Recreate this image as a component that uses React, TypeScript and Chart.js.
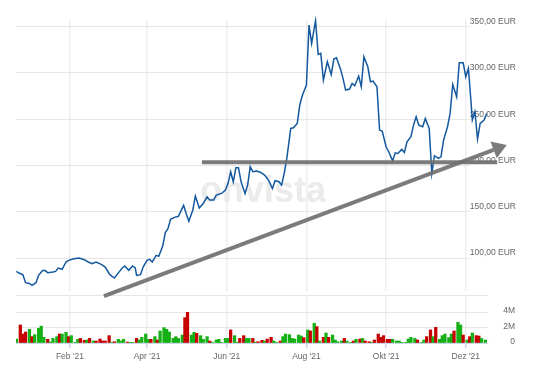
import { useEffect, useRef } from 'react';
import { Chart, registerables } from 'chart.js';

Chart.register(...registerables);

// ---------- data (x values are day numbers of 2021: 1 = 1 Jan 2021, <=0 = Dec 2020) ----------
const monthTickDays = [32, 91, 152, 213, 274, 335];
const monthTickLabels = ["Feb '21", "Apr '21", "Jun '21", "Aug '21", "Okt '21", "Dez '21"];

const priceTicks = [100, 150, 200, 250, 300, 350];
const priceTickLabels = ['100,00 EUR', '150,00 EUR', '200,00 EUR', '250,00 EUR', '300,00 EUR', '350,00 EUR'];

const volumeTicks = [0, 2, 4];
const volumeTickLabels = ['0', '2M', '4M'];

const priceDays = [
  -9, -7, -4, -2, 1, 3, 6, 8, 11, 13, 15, 19, 21, 23, 26, 29, 31, 35, 39, 43,
  46, 49, 52, 56, 59, 62, 64, 66, 70, 72, 74, 77, 80, 82, 83, 86, 88, 91, 93, 95,
  98, 100, 103, 105, 107, 109, 112, 115, 119, 121, 123, 126, 128, 131, 134, 137, 139, 142, 144, 148,
  151, 153, 155, 157, 159, 161, 163, 166, 168, 170, 172, 175, 178, 181, 184, 187, 189, 192, 194, 196,
  198, 201, 203, 206, 208, 210, 213, 215, 217, 220, 222, 224, 226, 229, 232, 234, 236, 239, 241, 243,
  246, 248, 250, 253, 255, 257, 260, 262, 264, 267, 269, 271, 274, 276, 279, 281, 283, 286, 288, 290,
  293, 295, 297, 299, 302, 304, 307, 309, 311, 314, 316, 318, 321, 323, 325, 328, 330, 333, 335, 337,
  339, 340, 342, 344, 346, 349, 351,
];
const priceValues = [
  85.2, 83.4, 81.6, 73, 72.2, 70.1, 73, 80.9, 86, 86, 83.8, 84.5, 85.2, 88.8, 87.4, 95.3, 97.1, 98.9, 99.6, 97.8,
  95.3, 93.5, 95.3, 92.8, 89.9, 82.7, 80.1, 78, 85.2, 88.8, 91, 86.3, 91, 88.8, 80.9, 81.6, 89.9, 97.1, 98.2, 95.3,
  102.5, 101.4, 112.5, 127, 131.3, 141.4, 143.5, 144.6, 156.5, 147.5, 139.2, 151.1, 166.5, 153.6, 158.5, 165.7, 162.1, 162.1, 167.5, 169.3,
  172.9, 180, 192.7, 181.9, 197, 197, 181.9, 169.3, 178.3, 198.1, 192.7, 193.4, 192, 189.1, 183.7, 174.7, 183, 181.9, 178.3, 190.9,
  207.1, 239.5, 240.2, 244.9, 265.4, 275.5, 286.3, 351.1, 331.3, 355.8, 319.4, 320.5, 291.7, 311.4, 297.8, 314.4, 315.8, 304, 293.5, 280.9,
  282, 288.1, 285.5, 296, 284.5, 316.8, 306, 289.9, 290.6, 284.5, 237.7, 236.6, 219.7, 214.3, 204.5, 213.2, 212.5, 216.8, 213.6, 225,
  230.5, 243.1, 252.1, 243.1, 241.3, 250.3, 239.5, 190.9, 210, 207.1, 208.9, 226.9, 241.3, 255.7, 287, 273.6, 310.4, 310.4, 295.2, 304.3,
  268.3, 248.5, 257.5, 228, 244.9, 248.5, 255.7,
];

const volumeDays = [
  -9, -6, -4, -2, 1, 3, 5, 8, 10, 12, 15, 17, 19, 22, 24, 26, 29, 31, 33, 36,
  38, 40, 43, 45, 47, 50, 52, 55, 57, 59, 62, 64, 66, 69, 71, 73, 76, 78, 80, 83,
  85, 87, 90, 92, 94, 97, 99, 101, 104, 106, 108, 111, 113, 115, 118, 120, 122, 125, 127, 129,
  132, 134, 137, 139, 141, 144, 146, 148, 151, 153, 155, 158, 160, 162, 165, 167, 169, 172, 174, 176,
  179, 181, 183, 186, 188, 190, 193, 195, 197, 200, 202, 204, 207, 209, 211, 214, 216, 219, 221, 223,
  226, 228, 230, 233, 235, 237, 240, 242, 244, 247, 249, 251, 254, 256, 258, 261, 263, 265, 268, 270,
  272, 275, 277, 279, 282, 284, 286, 289, 291, 293, 296, 298, 301, 303, 305, 308, 310, 312, 315, 317,
  319, 322, 324, 326, 329, 331, 333, 336, 338, 340, 343, 345, 347, 350,
];
// traded volume in millions
const volumeMillions = [
  0.52, 2.35, 1.17, 1.43, 1.78, 0.83, 1.09, 1.91, 2.2, 0.74,
  0.48, 0.13, 0.6, 0.83, 1.17, 1.17, 1.39, 0.83, 0.96, 0.1,
  0.48, 0.6, 0.35, 0.39, 0.6, 0.26, 0.26, 0.52, 0.26, 0.26,
  0.96, 0.05, 0.17, 0.48, 0.26, 0.48, 0.13, 0.04, 0.04, 0.6,
  0.39, 0.74, 1.17, 0.48, 0.48, 0.83, 0.39, 1.57, 2.0, 1.78,
  1.43, 0.6, 0.83, 0.6, 1.04, 3.3, 4.0, 1.04, 1.39, 1.26,
  0.96, 0.48, 0.83, 0.26, 0.04, 0.39, 0.48, 0.04, 0.6, 0.6,
  1.7, 0.96, 0.1, 0.6, 0.96, 0.6, 0.6, 0.6,
  0.1, 0.17, 0.35, 0.26, 0.52, 0.74, 0.26, 0.04, 0.26, 0.83,
  1.17, 1.09, 0.6, 0.52, 1.04, 0.91, 0.7, 1.7, 1.57, 2.57,
  2.13, 0.26, 0.74, 1.3, 0.74, 1.04, 0.39, 0.17, 0.26, 0.6,
  0.26, 0.04, 0.26, 0.48, 0.52, 0.6, 0.26, 0.17, 0.04, 0.39,
  1.17, 0.74, 0.96, 0.48, 0.48, 0.48, 0.26, 0.26, 0.04, 0.04,
  0.52, 0.74, 0.6, 0.39, 0.04, 0.39, 0.83, 1.7, 0.83, 2.04,
  0.48, 0.96, 1.17, 0.7, 1.17, 1.57, 2.7, 2.35, 1.04, 0.39,
  0.83, 1.3, 0.96, 0.91, 0.6, 0.39,
];
// 1 = closing up (green), 0 = closing down (red)
const volumeUp = [
  1, 0, 0, 0, 1, 0, 1, 1, 1, 1,
  0, 1, 1, 1, 0, 1, 1, 0, 1, 1,
  1, 0, 0, 1, 0, 1, 0, 0, 0, 0,
  0, 1, 0, 1, 1, 1, 0, 1, 1, 0,
  1, 1, 1, 1, 0, 1, 0, 1, 1, 1,
  1, 1, 1, 1, 1, 0, 0, 1, 1, 0,
  1, 1, 1, 0, 1, 1, 1, 1, 1, 1,
  0, 1, 1, 0, 0, 1, 1, 0,
  1, 0, 0, 1, 0, 0, 1, 1, 0, 1,
  1, 1, 1, 1, 1, 1, 0, 1, 0, 1,
  0, 1, 0, 1, 0, 1, 1, 1, 1, 0,
  1, 1, 0, 1, 0, 1, 0, 0, 1, 0,
  0, 0, 0, 0, 0, 1, 1, 1, 1, 1,
  1, 1, 1, 0, 1, 1, 0, 0, 1, 0,
  1, 1, 1, 1, 1, 0, 1, 1, 0, 1,
  0, 1, 0, 0, 1, 1,
];

// drawn annotations (support level and trend arrow)
const levelDays = [133, 359];
const levelPrice = 203;
const trendDays = [58, 356.3];
const trendPrices = [58.5, 216.3];

// ---------- layout ----------
const W = 534;
const H = 369;
const PLOT_LEFT = 16;
const PLOT_RIGHT = 488;
const PRICE_TOP = 20.5;
const PRICE_BOTTOM = 291;
const VOL_TOP = 295;
const VOL_BOTTOM = 343;
const X_MIN = -9.3;
const X_MAX = 352;
const FONT = '"Liberation Sans", Arial, sans-serif';
const LABEL_COLOR = '#666666';
const GRID_COLOR = '#e6e6e6';
const VGRID_COLOR = '#eeeeee';
const ANNOT_COLOR = 'rgba(112,112,112,0.92)';

const fixYAxis = (s: any) => {
  s.width = W - PLOT_RIGHT;
  s.paddingTop = 0;
  s.paddingBottom = 0;
};

export default function App() {
  const priceRef = useRef<HTMLCanvasElement>(null);
  const volRef = useRef<HTMLCanvasElement>(null);

  useEffect(() => {
    const monthTicks = (scale: any) => {
      scale.ticks = monthTickDays.map((v) => ({ value: v }));
    };

    const priceDecor = {
      id: 'priceDecor',
      beforeDatasetsDraw(chart: any) {
        const { ctx, chartArea, scales } = chart;
        const y = scales.y;
        ctx.save();
        ctx.strokeStyle = GRID_COLOR;
        ctx.lineWidth = 1;
        for (const v of priceTicks) {
          const py = Math.round(y.getPixelForValue(v)) + 0.5;
          ctx.beginPath();
          ctx.moveTo(chartArea.left, py);
          ctx.lineTo(chartArea.right - 18, py);
          ctx.stroke();
        }
        ctx.font = `bold 36px ${FONT}`;
        ctx.fillStyle = '#ebebeb';
        ctx.textBaseline = 'alphabetic';
        ctx.fillText('onvista', 200, 202);
        ctx.restore();
      },
      afterDatasetsDraw(chart: any) {
        const meta = chart.getDatasetMeta(1);
        const p0 = meta.data[0];
        const p1 = meta.data[1];
        if (!p0 || !p1) return;
        const dx = p1.x - p0.x;
        const dy = p1.y - p0.y;
        const len = Math.hypot(dx, dy);
        const ux = dx / len;
        const uy = dy / len;
        const nx = -uy;
        const ny = ux;
        const headLen = 14;
        const half = 9;
        const { ctx } = chart;
        ctx.save();
        ctx.fillStyle = ANNOT_COLOR;
        ctx.beginPath();
        ctx.moveTo(p1.x + ux * headLen, p1.y + uy * headLen);
        ctx.lineTo(p1.x + nx * half, p1.y + ny * half);
        ctx.lineTo(p1.x - nx * half, p1.y - ny * half);
        ctx.closePath();
        ctx.fill();
        ctx.restore();
      },
    };

    const priceChart = new Chart(priceRef.current as HTMLCanvasElement, {
      type: 'line',
      data: {
        datasets: [
          {
            label: 'level',
            data: levelDays.map((d) => ({ x: d, y: levelPrice })),
            borderColor: ANNOT_COLOR,
            borderWidth: 4,
            pointRadius: 0,
            clip: false,
            order: 1,
          },
          {
            label: 'trend',
            data: trendDays.map((d, i) => ({ x: d, y: trendPrices[i] })),
            borderColor: ANNOT_COLOR,
            borderWidth: 4,
            pointRadius: 0,
            clip: false,
            order: 1,
          },
          {
            label: 'price',
            data: priceDays.map((d, i) => ({ x: d, y: priceValues[i] })),
            borderColor: '#14589f',
            borderWidth: 1.5,
            pointRadius: 0,
            tension: 0,
            clip: 4,
            order: 2,
          },
        ],
      } as any,
      options: {
        responsive: false,
        animation: false,
        events: [],
        layout: { padding: { left: PLOT_LEFT, top: PRICE_TOP, right: 0, bottom: 0 } },
        plugins: { legend: { display: false }, tooltip: { enabled: false } },
        scales: {
          x: {
            type: 'linear',
            min: X_MIN,
            max: X_MAX,
            afterBuildTicks: monthTicks,
            afterFit: (s: any) => {
              s.height = H - PRICE_BOTTOM;
              s.paddingLeft = 0;
              s.paddingRight = 0;
            },
            ticks: { display: false },
            grid: { color: VGRID_COLOR, lineWidth: 1.5, drawTicks: false },
            border: { display: false },
          },
          y: {
            type: 'linear',
            position: 'right',
            min: 64,
            max: 356,
            afterBuildTicks: (s: any) => {
              s.ticks = priceTicks.map((v) => ({ value: v }));
            },
            afterFit: fixYAxis,
            grid: { display: false, drawTicks: false },
            border: { display: false },
            ticks: {
              mirror: true,
              padding: 28,
              crossAlign: 'near',
              labelOffset: -4.5,
              color: LABEL_COLOR,
              font: { family: FONT, size: 8.5 },
              callback: (_v: any, i: number) => priceTickLabels[i],
            },
          },
        },
      } as any,
      plugins: [priceDecor],
    });

    const volDecor = {
      id: 'volDecor',
      beforeDatasetsDraw(chart: any) {
        const { ctx, chartArea } = chart;
        ctx.save();
        ctx.strokeStyle = GRID_COLOR;
        ctx.lineWidth = 1;
        const py = Math.round(chartArea.top) + 0.5;
        ctx.beginPath();
        ctx.moveTo(chartArea.left, py);
        ctx.lineTo(chartArea.right, py);
        ctx.stroke();
        ctx.restore();
      },
    };

    const volChart = new Chart(volRef.current as HTMLCanvasElement, {
      type: 'bar',
      data: {
        datasets: [
          {
            label: 'volume',
            data: volumeDays.map((d, i) => ({ x: d, y: volumeMillions[i] })),
            backgroundColor: volumeUp.map((u) => (u ? '#15b015' : '#c60000')),
            borderWidth: 0,
            barThickness: 2.6,
          },
        ],
      } as any,
      options: {
        responsive: false,
        animation: false,
        events: [],
        layout: { padding: { left: PLOT_LEFT, top: VOL_TOP, right: 0, bottom: 0 } },
        plugins: { legend: { display: false }, tooltip: { enabled: false } },
        scales: {
          x: {
            type: 'linear',
            min: X_MIN,
            max: X_MAX,
            offset: false,
            afterBuildTicks: monthTicks,
            afterFit: (s: any) => {
              s.height = H - VOL_BOTTOM;
              s.paddingLeft = 0;
              s.paddingRight = 0;
            },
            ticks: {
              autoSkip: false,
              maxRotation: 0,
              padding: 4,
              color: LABEL_COLOR,
              font: { family: FONT, size: 8.5 },
              callback: (_v: any, i: number) => monthTickLabels[i],
            },
            grid: { color: VGRID_COLOR, lineWidth: 1.5, tickColor: '#ccd6eb', tickLength: 5, offset: false },
            border: { color: '#ccd6eb' },
          },
          y: {
            type: 'linear',
            position: 'right',
            min: 0,
            max: 6.26,
            afterBuildTicks: (s: any) => {
              s.ticks = volumeTicks.map((v) => ({ value: v }));
            },
            afterFit: fixYAxis,
            grid: { color: GRID_COLOR, drawTicks: false },
            border: { display: false },
            ticks: {
              mirror: true,
              padding: 27,
              crossAlign: 'near',
              labelOffset: -1.5,
              color: LABEL_COLOR,
              font: { family: FONT, size: 8.5 },
              callback: (_v: any, i: number) => volumeTickLabels[i],
            },
          },
        },
      } as any,
      plugins: [volDecor],
    });

    return () => {
      priceChart.destroy();
      volChart.destroy();
    };
  }, []);

  return (
    <div style={{ position: 'fixed', left: 0, top: 0, width: W, height: H, background: '#ffffff' }}>
      <canvas ref={volRef} width={W} height={H} style={{ position: 'absolute', left: 0, top: 0 }} />
      <canvas ref={priceRef} width={W} height={H} style={{ position: 'absolute', left: 0, top: 0 }} />
    </div>
  );
}
